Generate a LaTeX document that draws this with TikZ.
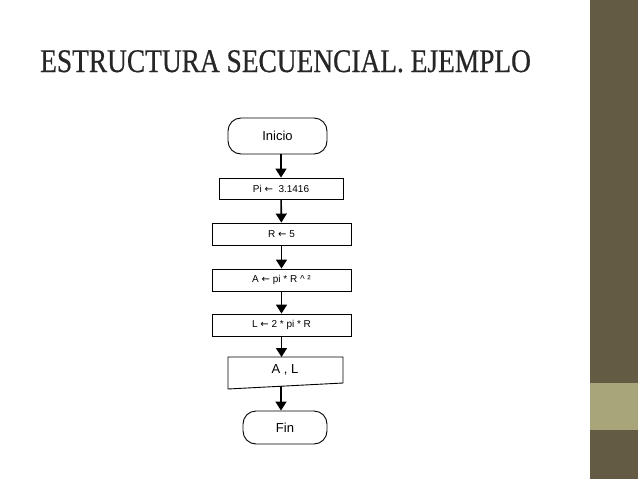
\documentclass[tikz,border=0pt]{standalone}
\usepackage{fontspec}
\setmainfont{Liberation Serif}
\newfontfamily\arialf{Liberation Sans}
\newfontfamily\djv{DejaVu Sans}
\newcommand{\larr}{{\djv ←}}
\usetikzlibrary{arrows.meta}
\definecolor{bardark}{HTML}{645B45}
\definecolor{barlight}{HTML}{A8A57A}
\begin{document}
\begin{tikzpicture}[x=1pt,y=-1pt,
  box/.style={draw,line width=0.9pt,font=\arialf\fontsize{10}{12}\selectfont},
  term/.style={box,rounded corners=13pt,font=\arialf\fontsize{13}{15}\selectfont},
  arr/.style={-{Triangle[length=9pt,width=11pt]},line width=1.6pt}]
\useasboundingbox (0,0) rectangle (638,479);
\fill[white] (0,0) rectangle (638,479);
\fill[bardark] (590,0) rectangle (638,479);
\fill[barlight] (590,383) rectangle (638,430);
\node[anchor=base west,inner sep=0,text=black!85,font=\fontsize{33}{38}\selectfont] (title) at (40,72) {\addfontfeatures{FakeStretch=0.83,FakeBold=0.5}ESTRUCTURA SECUENCIAL. EJEMPLO};
\node[term,minimum width=99pt,minimum height=36pt] (ini) at (277.5,136) {Inicio};
\node[box,minimum width=124pt,minimum height=21pt] (pi) at (281,188.5) {Pi \larr\ \ 3.1416};
\node[box,minimum width=139pt,minimum height=22pt] (r) at (281.5,234) {R \larr\ 5};
\node[box,minimum width=139pt,minimum height=22pt] (a) at (281.5,280) {A \larr\ pi * R \^{} ²};
\node[box,minimum width=139pt,minimum height=22pt] (l) at (281.5,325) {L \larr\ 2 * pi * R};
\coordinate (otop) at (285,357);
\draw[line width=0.9pt] (228,357) -- (343,357) -- (343,383) -- (228,389) -- cycle;
\node[font=\arialf\fontsize{13}{15}\selectfont] (out) at (285,370) {A , L};
\node[term,minimum width=84pt,minimum height=33pt] (fin) at (285,427.5) {Fin};
\draw[arr] (ini.south -| pi.north) -- (pi.north);
\draw[arr] (pi) -- (r);
\draw[arr] (r) -- (a);
\draw[arr] (a) -- (l);
\draw[arr] (l.south) -- (l.south |- otop);
\coordinate (obot) at (281,386);
\draw[arr] (obot) -- (obot |- fin.north);
\end{tikzpicture}
\end{document}
